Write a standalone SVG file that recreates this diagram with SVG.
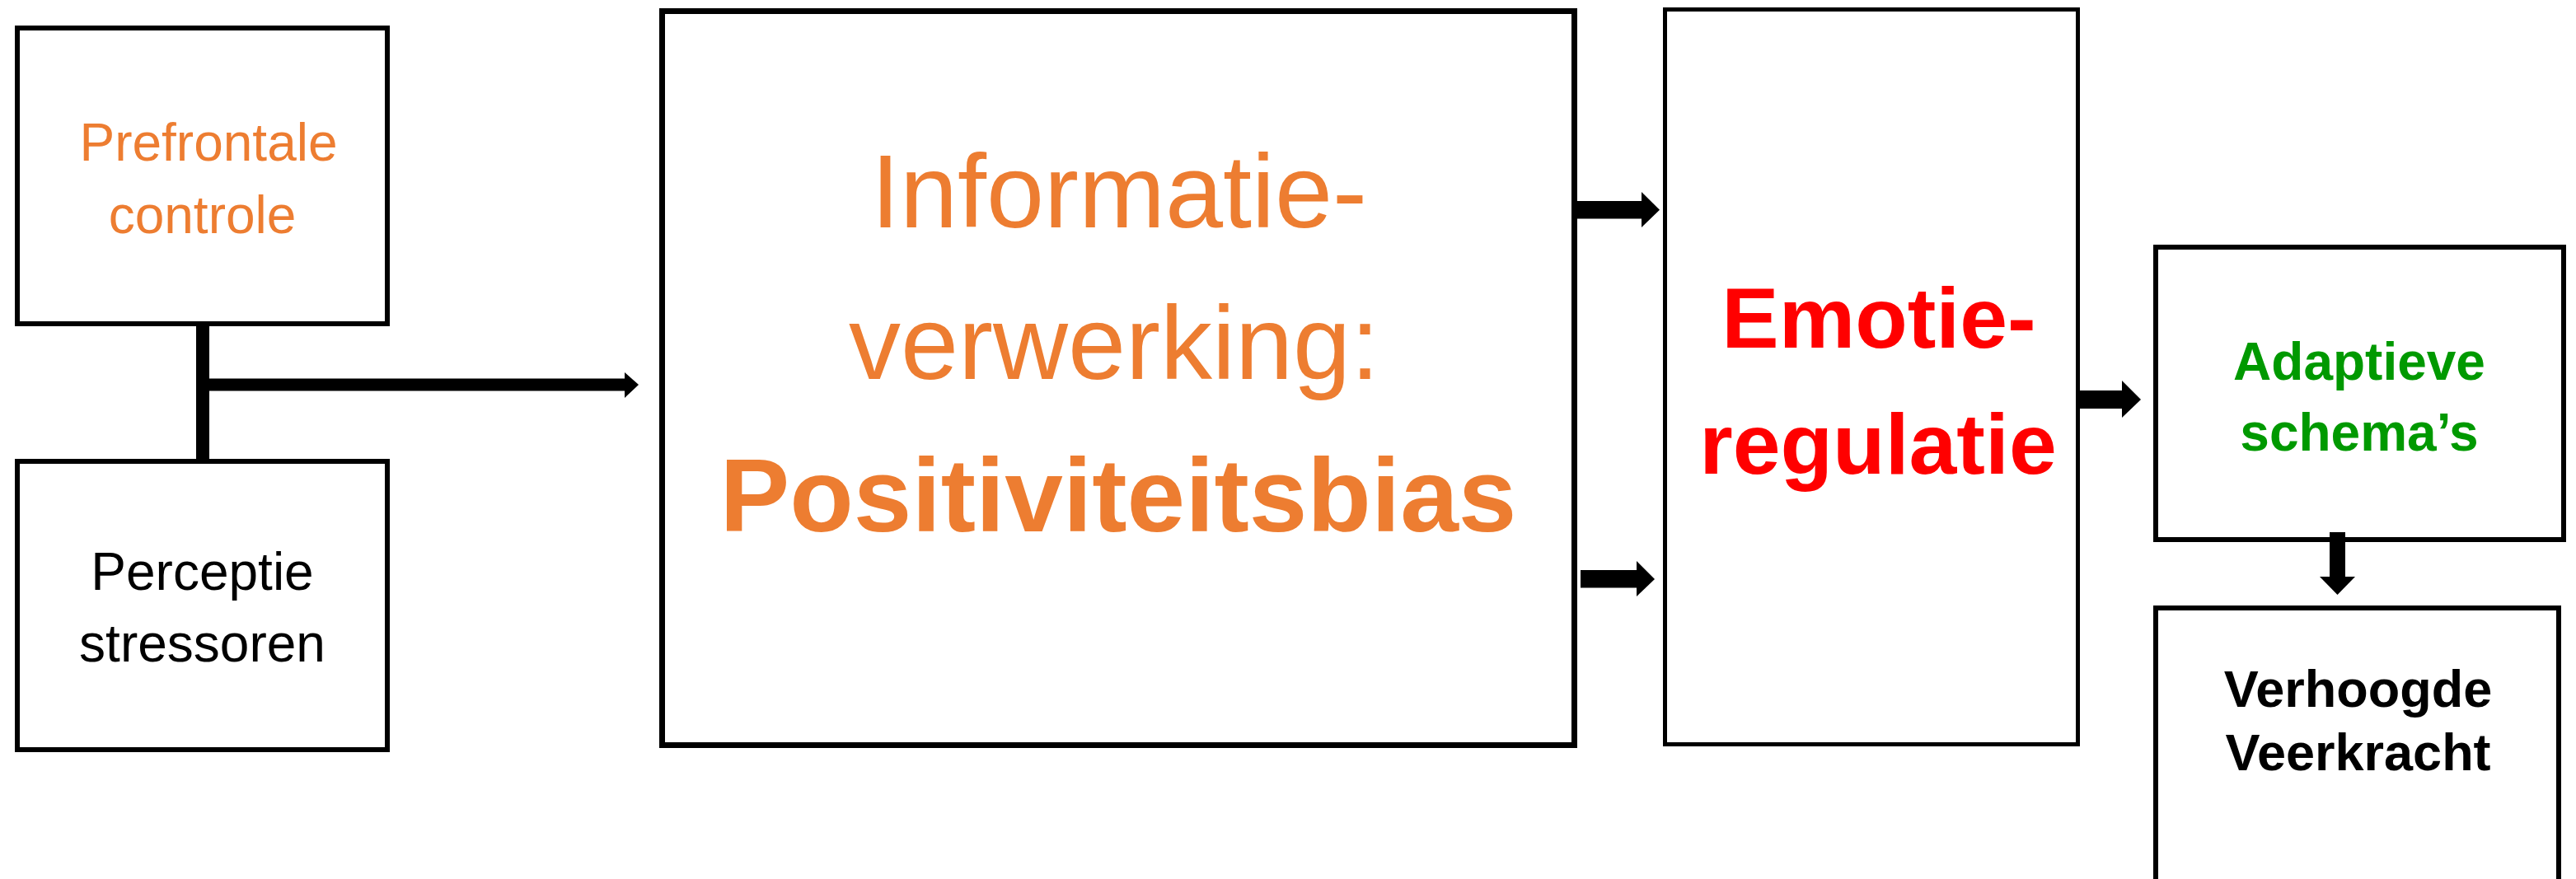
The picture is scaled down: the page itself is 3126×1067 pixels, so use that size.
<svg xmlns="http://www.w3.org/2000/svg" width="3126" height="1067" viewBox="0 0 3126 1067">
<style>
.box{fill:#fff;stroke:#000}
.t{font-family:"Liberation Sans",Arial,sans-serif;text-anchor:middle}
.b{font-weight:bold}
.or{fill:#ED7D31}
.rd{fill:#FF0000}
.gr{fill:#009900}
.bk{fill:#000}
.c{fill:#000;stroke:none}
</style>
<rect width="3126" height="1067" fill="#fff"/>
<g id="node-prefrontale">
<rect class="box" x="21" y="34" width="449" height="359" stroke-width="6"/>
<text class="t or" x="253" y="195" font-size="64">Prefrontale</text>
<text class="t or" x="245.5" y="283" font-size="64">controle</text>
</g>
<g id="node-perceptie">
<rect class="box" x="21" y="560" width="449" height="350" stroke-width="6"/>
<text class="t bk" x="245.5" y="716" font-size="64">Perceptie</text>
<text class="t bk" x="245.5" y="803" font-size="64">stressoren</text>
</g>
<g id="node-informatie">
<rect class="box" x="803.5" y="13.5" width="1107" height="891" stroke-width="7"/>
<text class="t or" x="1358" y="276" font-size="126">Informatie-</text>
<text class="t or" x="1352" y="460" font-size="126">verwerking:</text>
<text class="t b or" x="1357" y="645" font-size="127">Positiviteitsbias</text>
</g>
<g id="node-emotie">
<rect class="box" x="2020.5" y="11.5" width="501" height="892" stroke-width="5"/>
<text class="t b rd" x="2280" y="422" font-size="104">Emotie-</text>
<text class="t b rd" x="2279" y="575" font-size="104">regulatie</text>
</g>
<g id="node-adaptieve">
<rect class="box" x="2616" y="300" width="495" height="355" stroke-width="6"/>
<text class="t b gr" x="2863" y="461" font-size="64">Adaptieve</text>
<text class="t b gr" x="2863" y="547" font-size="64">schema’s</text>
</g>
<g id="node-verhoogde">
<rect class="box" x="2616" y="738" width="489" height="400" stroke-width="6"/>
<text class="t b bk" x="2861.5" y="858" font-size="63">Verhoogde</text>
<text class="t b bk" x="2861.5" y="935" font-size="63">Veerkracht</text>
</g>
<g id="connectors">
<rect class="c" x="238" y="393" width="16" height="167"/>
<rect class="c" x="254" y="459.5" width="506" height="15"/>
<polygon class="c" points="758,452 775,467 758,483"/>
<rect class="c" x="1914" y="244" width="79" height="21.5"/>
<polygon class="c" points="1992,233 2014,254.7 1992,276"/>
<rect class="c" x="1918" y="692" width="69" height="21.5"/>
<polygon class="c" points="1986,681 2008,703 1986,724"/>
<rect class="c" x="2524" y="474" width="52" height="22"/>
<polygon class="c" points="2575,462 2598,485 2575,507"/>
<rect class="c" x="2827" y="646" width="19" height="55"/>
<polygon class="c" points="2815,700 2836.5,722 2858,700"/>
</g>
</svg>
